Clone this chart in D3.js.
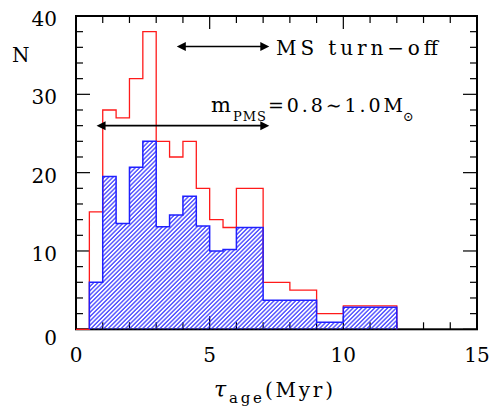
<!DOCTYPE html>
<html><head><meta charset="utf-8">
<script src="https://cdn.jsdelivr.net/npm/d3@7"></script>
<style>
body{margin:0;background:#fff}
svg{display:block}
text{font-family:"DejaVu Serif","Liberation Serif",serif;fill:#000}
</style>
</head><body>
<svg id="chart" width="494" height="408"></svg>
<script>
// ---- data ----
const binEdges   = [0, 0.5, 1, 1.5, 2, 2.5, 3, 3.5, 4, 4.5, 5, 5.5, 6, 7, 8, 9, 10, 12];
const redCounts  = [0, 15, 28, 27, 32, 38, 24, 22, 24, 18, 14, 13, 18, 6, 5, 2, 3];
const blueCounts = [0, 6, 19.5, 13.5, 20.7, 24, 13.1, 14.6, 17, 13.2, 10, 10.2, 13, 3.7, 3.7, 0.9, 2.8];
const xMajorTicks = [0, 5, 10, 15];
const xMinorTicks = [1, 2, 3, 4, 6, 7, 8, 9, 11, 12, 13, 14];
const yMajorTicks = [0, 10, 20, 30, 40];
const yMinorTicks = [2, 4, 6, 8, 12, 14, 16, 18, 22, 24, 26, 28, 32, 34, 36, 38];
const arrowMS  = {x0: 3.77, x1: 7.23, y: 36.1};
const arrowPMS = {x0: 0.77, x1: 7.23, y: 26.0};

// ---- layout ----
const svg = d3.select("#chart");
const L = 76, R = 477, T = 16, B = 329.3;
const x = d3.scaleLinear().domain([0, 15]).range([L, R]);
const y = d3.scaleLinear().domain([0, 40]).range([B, T]);

const defs = svg.append("defs");
const pat = defs.append("pattern").attr("id", "hatch")
  .attr("patternUnits", "userSpaceOnUse").attr("width", 3.05).attr("height", 10)
  .attr("patternTransform", "rotate(45)");
pat.append("line").attr("x1", 0.8).attr("y1", -1).attr("x2", 0.8).attr("y2", 11)
  .attr("stroke", "#1f1fff").attr("stroke-width", 1.1);

// frame
svg.append("rect").attr("x", L).attr("y", T).attr("width", R - L).attr("height", B - T)
  .attr("fill", "none").attr("stroke", "#000").attr("stroke-width", 2);

// ticks
const tk = svg.append("g").attr("stroke", "#000").attr("stroke-width", 1.2);
function xt(vals, len) {
  vals.forEach(v => {
    tk.append("line").attr("x1", x(v)).attr("x2", x(v)).attr("y1", B).attr("y2", B - len);
    tk.append("line").attr("x1", x(v)).attr("x2", x(v)).attr("y1", T).attr("y2", T + len);
  });
}
function yt(vals, len) {
  vals.forEach(v => {
    tk.append("line").attr("y1", y(v)).attr("y2", y(v)).attr("x1", L).attr("x2", L + len);
    tk.append("line").attr("y1", y(v)).attr("y2", y(v)).attr("x1", R).attr("x2", R - len);
  });
}
xt(xMajorTicks, 13); xt(xMinorTicks, 7);
yt(yMajorTicks, 14); yt(yMinorTicks, 7);

// tick labels
svg.append("g").selectAll("text").data(xMajorTicks).join("text")
  .attr("x", d => x(d)).attr("y", 361.7).attr("text-anchor", "middle")
  .attr("font-size", 20).text(d => d);
svg.append("g").selectAll("text").data(yMajorTicks).join("text")
  .attr("x", 57).attr("y", d => y(d) + (d === 0 ? 16 : 10)).attr("text-anchor", "end")
  .attr("font-size", 20).text(d => d);

// histograms
function stepPoints(counts, fromFirstNonZero) {
  const s = fromFirstNonZero ? counts.findIndex(c => c > 0) : 0;
  const pts = [[binEdges[s], 0]];
  for (let i = s; i < counts.length; i++) { pts.push([binEdges[i], counts[i]]); pts.push([binEdges[i + 1], counts[i]]); }
  pts.push([binEdges[counts.length], 0]);
  return pts;
}
const line = d3.line().x(d => x(d[0])).y(d => y(d[1]));

const bluePts = stepPoints(blueCounts, true);
svg.append("path").attr("d", line(bluePts) + "Z").attr("fill", "url(#hatch)").attr("stroke", "none");
svg.append("path").attr("d", line(stepPoints(redCounts, false))).attr("fill", "none")
  .attr("stroke", "#ff1a1a").attr("stroke-width", 1.3);
svg.append("path").attr("d", line(bluePts)).attr("fill", "none")
  .attr("stroke", "#2020ff").attr("stroke-width", 1.5);

// arrows
function dblArrow(a) {
  const x0 = x(a.x0), x1 = x(a.x1), yy = y(a.y), hl = 9, hw = 4.5;
  const g = svg.append("g");
  g.append("line").attr("x1", x0 + hl - 1).attr("x2", x1 - hl + 1).attr("y1", yy).attr("y2", yy)
    .attr("stroke", "#000").attr("stroke-width", 1.6);
  g.append("path").attr("d", `M${x0},${yy}L${x0 + hl},${yy - hw}L${x0 + hl},${yy + hw}Z`).attr("fill", "#000");
  g.append("path").attr("d", `M${x1},${yy}L${x1 - hl},${yy - hw}L${x1 - hl},${yy + hw}Z`).attr("fill", "#000");
}
dblArrow(arrowMS);
dblArrow(arrowPMS);

// annotation texts
svg.append("text").attr("x", 276).attr("y", 55).attr("font-size", 20)
  .attr("textLength", 162).attr("lengthAdjust", "spacing").text("MS turn\u2212off");
svg.append("text").attr("x", 211).attr("y", 111.5).attr("font-size", 21).text("m");
svg.append("text").attr("x", 233).attr("y", 121).attr("font-size", 13)
  .attr("textLength", 33).attr("lengthAdjust", "spacing").text("PMS");
svg.append("text").attr("x", 268).attr("y", 111.5).attr("font-size", 19)
  .attr("textLength", 135).attr("lengthAdjust", "spacing").text("=0.8\u223C1.0M");
svg.append("text").attr("x", 403).attr("y", 121).attr("font-size", 13).text("\u2299");

// axis titles
svg.append("text").attr("x", 12).attr("y", 62).attr("font-size", 20).text("N");
svg.append("text").attr("x", 214).attr("y", 397).attr("font-size", 22).attr("font-style", "italic").text("\u03C4");
svg.append("text").attr("x", 229).attr("y", 403).attr("font-size", 15)
  .attr("textLength", 33).attr("lengthAdjust", "spacing").text("age");
svg.append("text").attr("x", 265).attr("y", 397).attr("font-size", 20)
  .attr("textLength", 68).attr("lengthAdjust", "spacing").text("(Myr)");
</script>
</body></html>
